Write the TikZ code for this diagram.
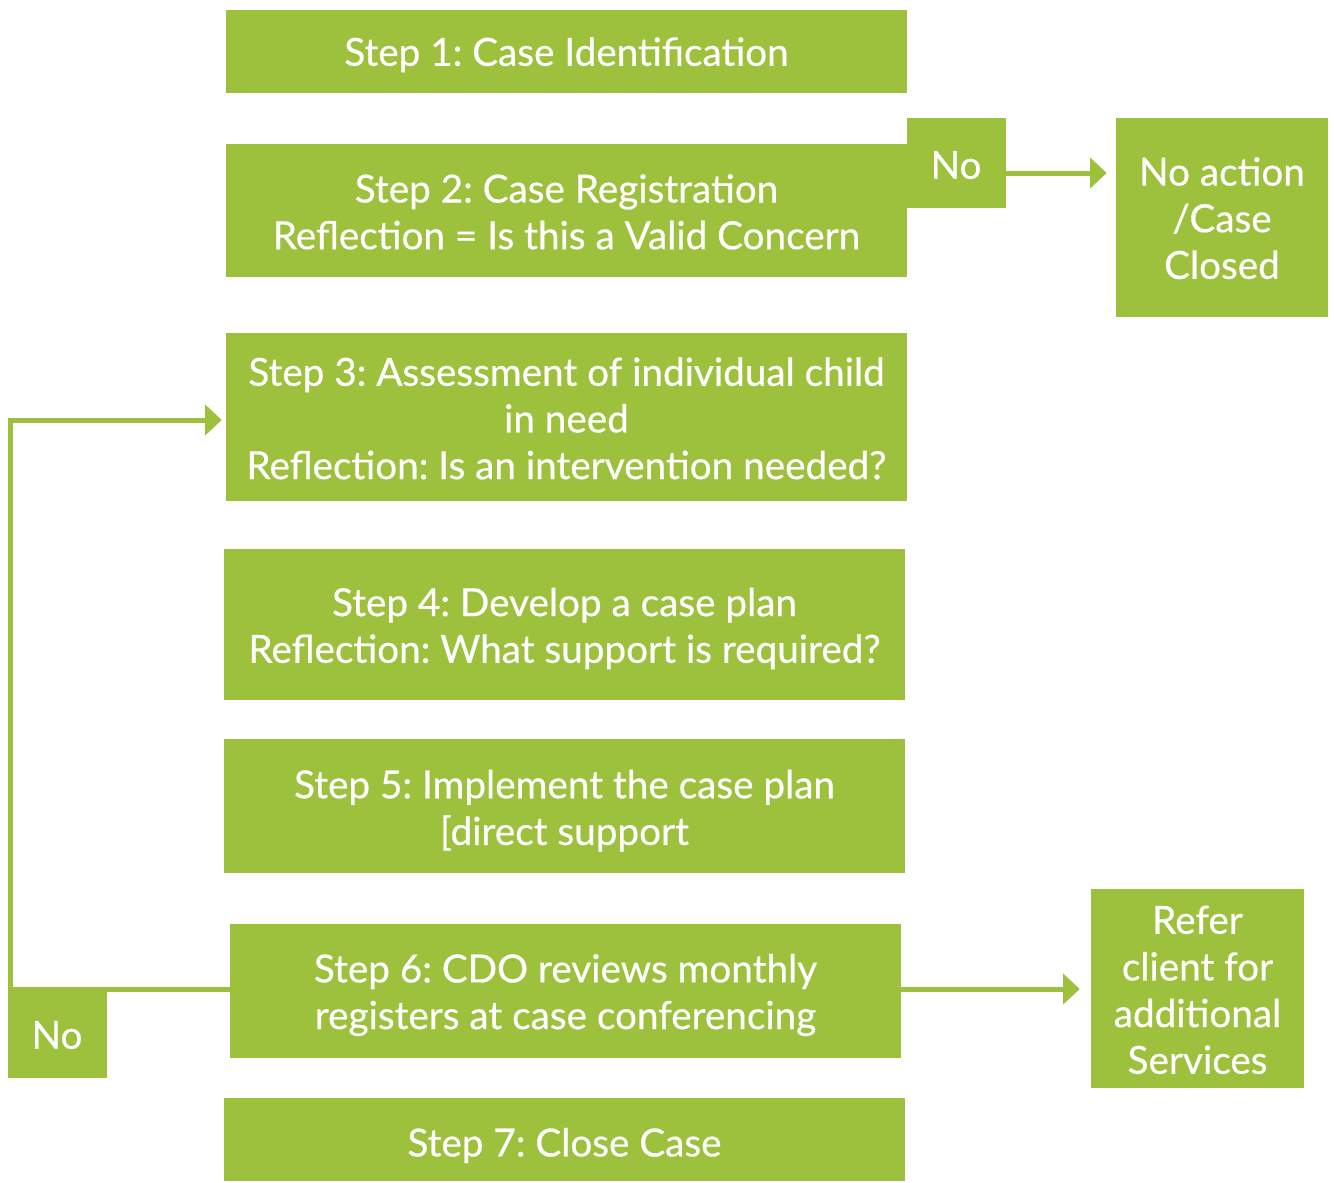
\documentclass[tikz,border=0pt]{standalone}
\usepackage{fontspec}
\setmainfont{Lato}[UprightFeatures={FakeBold=0.5}]
\usetikzlibrary{arrows.meta}
\definecolor{leaf}{HTML}{9DC13D}
\frenchspacing
\begin{document}
\begin{tikzpicture}[x=0.75pt,y=-0.75pt,
  box/.style={fill=leaf,draw=none,inner sep=0pt},
  txt/.style={text=white,align=center,inner sep=0pt,
    font=\fontsize{29}{35}\selectfont},
  link/.style={draw=leaf,line width=3.75pt,
    -{Triangle[width=22.5pt,length=12.5pt]}}]
\useasboundingbox (0,0) rectangle (1334,1182);
\node[box,minimum width=681*0.75pt,minimum height=83*0.75pt,label={[txt,yshift=-2.5pt]center:{Step 1: Case Identification}}] (s1) at (566.5,51.5) {};
\node[box,minimum width=681*0.75pt,minimum height=133*0.75pt,label={[txt,yshift=-1pt]center:{Step 2: Case Registration\\Reflection = Is this a Valid Concern}}] (s2) at (566.5,210.5) {};
\node[box,minimum width=99*0.75pt,minimum height=90*0.75pt,label={[txt,yshift=-1.5pt]center:{No}}] (notop) at (956,163) {};
\node[box,minimum width=212*0.75pt,minimum height=199*0.75pt,label={[txt,yshift=-0.5pt]center:{No action\\/Case\\Closed}}] (noaction) at (1222,217.5) {};
\node[box,minimum width=681*0.75pt,minimum height=168*0.75pt,label={[txt,yshift=-1pt]center:{Step 3: Assessment of individual child\\in need\\Reflection: Is an intervention needed?}}] (s3) at (566.5,417) {};
\node[box,minimum width=681*0.75pt,minimum height=151*0.75pt,label={[txt,yshift=-3pt]center:{Step 4: Develop a case plan\\Reflection: What support is required?}}] (s4) at (564.5,624.5) {};
\node[box,minimum width=681*0.75pt,minimum height=134*0.75pt,label={[txt,yshift=-3.5pt]center:{Step 5: Implement the case plan\\{}[direct support}}] (s5) at (564.5,806) {};
\node[box,minimum width=671*0.75pt,minimum height=134*0.75pt,label={[txt,yshift=-3pt]center:{Step 6: CDO reviews monthly\\registers at case conferencing}}] (s6) at (565.5,991) {};
\node[box,minimum width=681*0.75pt,minimum height=83*0.75pt,label={[txt,yshift=-4.5pt]center:{Step 7: Close Case}}] (s7) at (564.5,1139.5) {};
\node[box,minimum width=213*0.75pt,minimum height=199*0.75pt,label={[txt,yshift=-1pt]center:{Refer\\client for\\additional\\Services}}] (refer) at (1197.5,988.5) {};
\coordinate (ya) at (0,173);
\coordinate (yb) at (0,989);
\coordinate (corner) at (10,989);
\coordinate (yc) at (0,420);
\draw[link,shorten >=9*0.75pt] (notop.east |- ya) -- (noaction.west |- ya);
\draw[link,shorten >=11*0.75pt] (s6.east |- yb) -- (refer.west |- yb);
\draw[link,shorten >=4*0.75pt] (s6.west |- yb) -- (corner) -- (corner |- yc) -- (s3.west |- yc);
\node[box,minimum width=99*0.75pt,minimum height=89*0.75pt,label={[txt,yshift=-1.5pt]center:{No}}] (nobot) at (57,1033) {};
\end{tikzpicture}
\end{document}
